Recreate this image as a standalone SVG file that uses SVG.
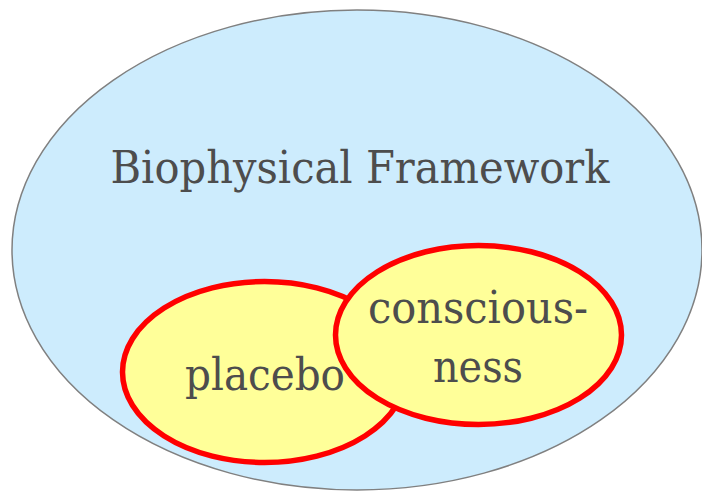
<svg xmlns="http://www.w3.org/2000/svg" width="702" height="491" viewBox="0 0 702 491">
<style>
.lbl{font-family:"DejaVu Serif","Liberation Serif",serif;fill:#4d4d4d;text-anchor:middle}
.inner{fill:#ffff99;stroke:#ff0000;stroke-width:5.5}
</style>
<rect width="702" height="491" fill="#ffffff"/>
<g id="framework">
<ellipse cx="357" cy="250" rx="345" ry="240" fill="#cdecfd" stroke="#808080" stroke-width="1.5"/>
<text class="lbl" x="360" y="183" font-size="44" textLength="499" lengthAdjust="spacingAndGlyphs">Biophysical Framework</text>
</g>
<g id="placebo">
<ellipse class="inner" cx="264.5" cy="372" rx="142" ry="90.5"/>
<text class="lbl" x="265" y="390" font-size="44" textLength="160" lengthAdjust="spacingAndGlyphs">placebo</text>
</g>
<g id="consciousness">
<ellipse class="inner" cx="478.5" cy="335" rx="143" ry="89.5"/>
<text class="lbl" x="478" y="323" font-size="44" textLength="220" lengthAdjust="spacingAndGlyphs">conscious-</text>
<text class="lbl" x="478" y="382" font-size="44" textLength="90" lengthAdjust="spacingAndGlyphs">ness</text>
</g>
</svg>
